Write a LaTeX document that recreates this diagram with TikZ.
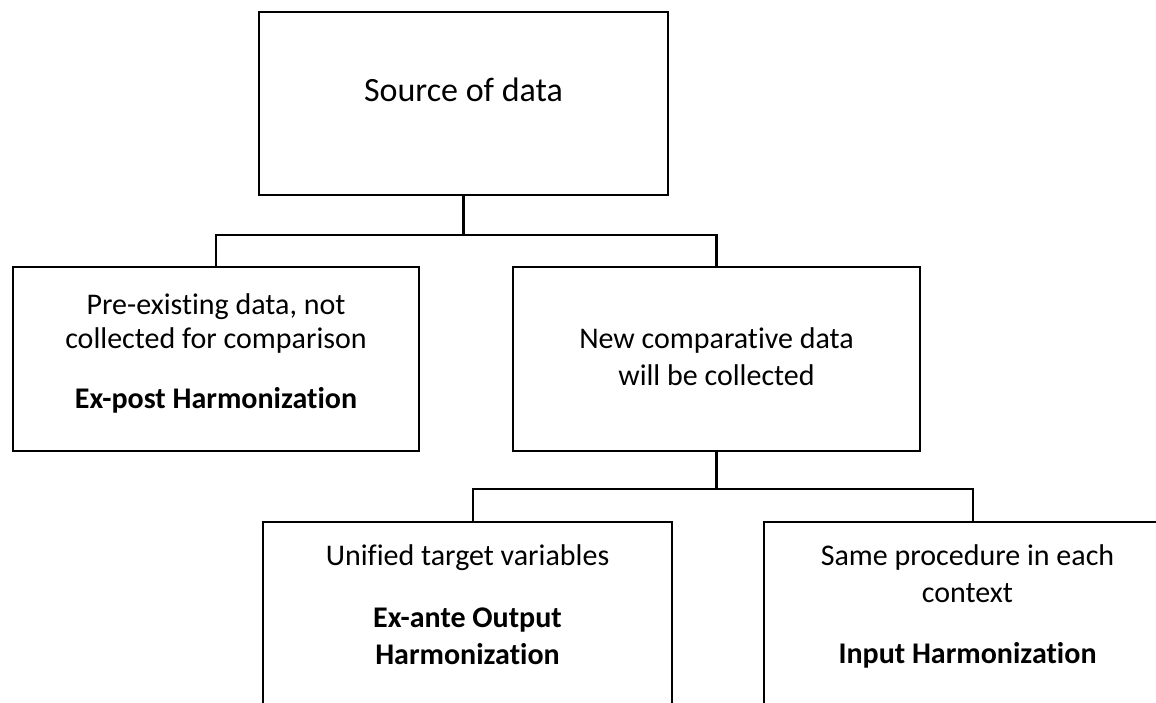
\documentclass[tikz,border=0pt]{standalone}
\usepackage{fontspec}
\setmainfont{Carlito}[Ligatures=NoCommon]

\tikzset{
  box/.style={draw, line width=1.1pt, inner sep=0pt},
  txt/.style={inner sep=0pt, align=center, font=\fontsize{15}{18.5}\selectfont},
  conn/.style={line width=1.1pt}
}

\begin{document}
\begin{tikzpicture}[x=0.5pt, y=-0.5pt]
      \useasboundingbox (0,0) rectangle (1156,702);

      % boxes
      \node[box, minimum width=204.5pt, minimum height=91.5pt] (src) at (463.5,103.5) {};
      \node[box, minimum width=203pt, minimum height=92pt] (pre) at (216,359) {};
      \node[box, minimum width=203.5pt, minimum height=92pt] (new) at (716.5,359) {};
      \node[box, minimum width=204.5pt, minimum height=100pt] (out) at (467.5,622) {};
      \node[box, minimum width=203.5pt, minimum height=100pt] (inp) at (967.5,622) {};

      % texts
      \node[txt, font=\fontsize{17}{20}\selectfont, anchor=base] (srctxt) at (463.5,101) {Source of data};
      \node[txt, font=\fontsize{15}{17}\selectfont, anchor=north] (pretxt) at (216,293)
        {Pre-existing data, not\\collected for comparison\\[13pt]\textbf{Ex-post Harmonization}};
      \node[txt, anchor=north] (newtxt) at (716.5,327) {New comparative data\\will be collected};
      \node[txt, anchor=north] (outtxt) at (467.5,544)
        {Unified target variables\\[12.5pt]\textbf{Ex-ante Output}\\\textbf{Harmonization}};
      \node[txt, anchor=north] (inptxt) at (967.5,544)
        {Same procedure in each\\context\\[12pt]\textbf{Input Harmonization}};

      % connectors
      \draw[conn] (src.south) -- ++(0,39) -| (pre.north);
      \draw[conn] (src.south) -- ++(0,39) -| (new.north);
      \draw[conn] (new.south) -- ++(0,37) -| ([xshift=2.75pt]out.north);
      \draw[conn] (new.south) -- ++(0,37) -| ([xshift=2.75pt]inp.north);
    \end{tikzpicture}
\end{document}
